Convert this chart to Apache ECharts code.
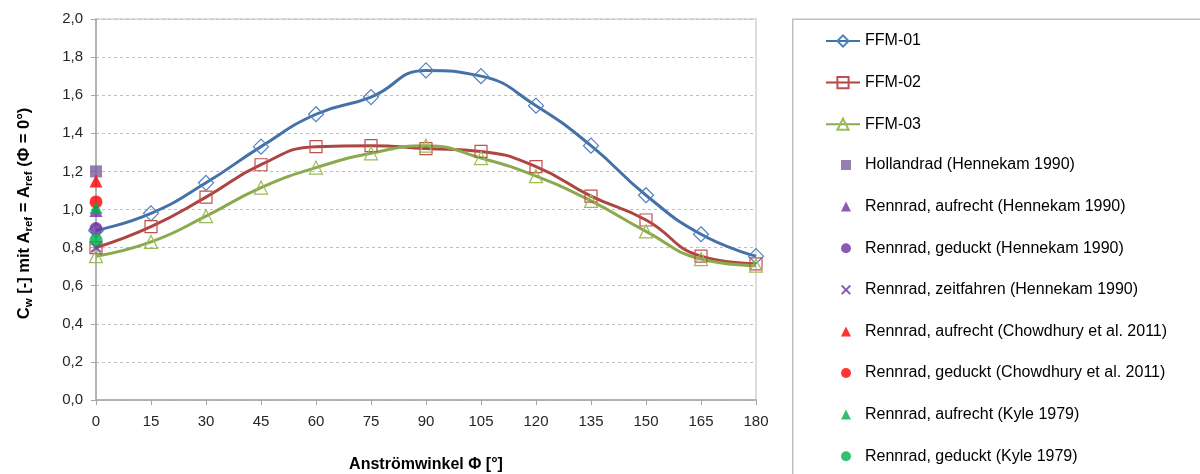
<!DOCTYPE html>
<html>
<head>
<meta charset="utf-8">
<script src="https://cdn.jsdelivr.net/npm/echarts@6/dist/echarts.min.js"></script>
<style>
  html, body { margin: 0; padding: 0; background: #fff; }
  #chart { width: 1200px; height: 474px; }
</style>
</head>
<body>
<div id="chart"></div>
<script>
// Anströmwinkel (x) in Grad
const angles = [0, 15, 30, 45, 60, 75, 90, 105, 120, 135, 150, 165, 180];

// cw-Werte der drei Modelle
const ffm01 = [0.89, 0.98, 1.14, 1.33, 1.50, 1.59, 1.73, 1.70, 1.545, 1.335, 1.075, 0.87, 0.755];
const ffm02 = [0.80, 0.91, 1.065, 1.235, 1.33, 1.335, 1.32, 1.305, 1.225, 1.07, 0.945, 0.755, 0.715];
const ffm03 = [0.755, 0.83, 0.965, 1.115, 1.22, 1.295, 1.335, 1.27, 1.175, 1.045, 0.885, 0.74, 0.705];

// Literaturwerte bei 0°
const refNames = [
  'Hollandrad (Hennekam 1990)',
  'Rennrad, aufrecht (Hennekam 1990)',
  'Rennrad, geduckt (Hennekam 1990)',
  'Rennrad, zeitfahren (Hennekam 1990)',
  'Rennrad, aufrecht (Chowdhury et al. 2011)',
  'Rennrad, geduckt (Chowdhury et al. 2011)',
  'Rennrad, aufrecht (Kyle 1979)',
  'Rennrad, geduckt (Kyle 1979)'
];
const refValues = [1.20, 0.995, 0.90, 0.80, 1.15, 1.04, 1.01, 0.84];

const crossPath = 'path://M0,1.4L1.4,0L5,3.6L8.6,0L10,1.4L6.4,5L10,8.6L8.6,10L5,6.4L1.4,10L0,8.6L3.6,5Z';
const refSymbols = ['rect', 'triangle', 'circle', crossPath, 'triangle', 'circle', 'triangle', 'circle'];
const refColors = ['#7B5E9C', '#7030A0', '#7030A0', '#7030A0', '#FF0000', '#FF0000', '#00B050', '#00B050'];
const refSizes = [12, 13, 13, 11, 13, 13, 13, 13];

const lineDefs = [
  { name: 'FFM-01', values: ffm01, line: '#4472A8', border: '#4F81BD', symbol: 'diamond', size: 15 },
  { name: 'FFM-02', values: ffm02, line: '#AD4541', border: '#C0504D', symbol: 'rect', size: 12 },
  { name: 'FFM-03', values: ffm03, line: '#8BAA4E', border: '#9BBB59', symbol: 'triangle', size: 13 }
];

const font = 'Liberation Sans, Arial, sans-serif';
const fmt = v => v.toFixed(1).replace('.', ',');

const series = [];
lineDefs.forEach(d => {
  series.push({
    name: d.name,
    type: 'line',
    smooth: 0.5,
    data: angles.map((a, i) => [a, d.values[i]]),
    symbol: d.symbol,
    symbolSize: d.size,
    lineStyle: { color: d.line, width: 3 },
    itemStyle: { color: 'rgba(255,255,255,0)', borderColor: d.border, borderWidth: 1.2 },
    emphasis: { disabled: true },
    z: 2
  });
});
refNames.forEach((n, i) => {
  series.push({
    name: n,
    type: 'scatter',
    data: [[0, refValues[i]]],
    symbol: refSymbols[i],
    symbolSize: refSizes[i],
    itemStyle: { color: refColors[i] },
    emphasis: { disabled: true },
    z: 3 + i
  });
});

const chart = echarts.init(document.getElementById('chart'), null, { renderer: 'canvas' });
chart.setOption({
  animation: false,
  backgroundColor: '#fff',
  textStyle: { fontFamily: font },
  grid: {
    left: 96, right: 444, top: 19, bottom: 74,
    containLabel: false, outerBoundsMode: 'none',
    show: true, borderColor: '#D4D4D4', borderWidth: 1.5
  },
  xAxis: {
    type: 'value', min: 0, max: 180, interval: 15,
    name: 'Anströmwinkel Φ [°]',
    nameLocation: 'middle', nameGap: 57,
    nameTextStyle: { fontFamily: font, fontSize: 16, fontWeight: 'bold', color: '#000' },
    axisLine: { show: true, onZero: false, lineStyle: { color: '#A6A6A6', width: 1.5 } },
    axisTick: { show: true, length: 5, lineStyle: { color: '#A6A6A6' } },
    axisLabel: { fontFamily: font, fontSize: 15, color: '#262626', margin: 14 },
    splitLine: { show: false }
  },
  yAxis: {
    type: 'value', min: 0, max: 2, interval: 0.2,
    name: '{b|C}{s|w}{b| [-] mit A}{s|ref}{b| = A}{s|ref}{b| (Φ = 0°)}',
    nameLocation: 'middle', nameGap: 61, nameRotate: 90,
    nameTextStyle: {
      fontFamily: font, color: '#000', padding: [0, 8, 0, 0],
      rich: {
        b: { fontFamily: font, fontSize: 16.5, fontWeight: 'bold', color: '#000', lineHeight: 22, verticalAlign: 'middle' },
        s: { fontFamily: font, fontSize: 11.5, fontWeight: 'bold', color: '#000', lineHeight: 22, verticalAlign: 'bottom' }
      }
    },
    axisLine: { show: true, lineStyle: { color: '#A6A6A6', width: 1.5 } },
    axisTick: { show: true, length: 5, lineStyle: { color: '#A6A6A6' } },
    axisLabel: { fontFamily: font, fontSize: 15, color: '#262626', margin: 13, formatter: v => fmt(v) },
    splitLine: { show: true, lineStyle: { color: '#BFBFBF', type: [3, 3], width: 1 } }
  },
  legend: [
    {
      orient: 'vertical', left: 825, top: 33, padding: 0, height: 200,
      itemWidth: 34, itemHeight: 14, itemGap: 25.6,
      textStyle: { fontFamily: font, fontSize: 16, color: '#000' },
      data: lineDefs.map(d => d.name),
      selectedMode: false
    },
    {
      orient: 'vertical', left: 841, top: 157, padding: 0, height: 400,
      itemWidth: 10, itemHeight: 10, itemGap: 25.6,
      textStyle: { fontFamily: font, fontSize: 16, color: '#000', padding: [0, 0, 0, 9] },
      data: refNames,
      selectedMode: false
    }
  ],
  graphic: [
    {
      type: 'rect', left: 792, top: 18.5, z: -1,
      shape: { width: 420, height: 470 },
      style: { fill: '#fff', stroke: '#BFBFBF', lineWidth: 1.5 }
    }
  ],
  series: series
});
</script>
</body>
</html>
